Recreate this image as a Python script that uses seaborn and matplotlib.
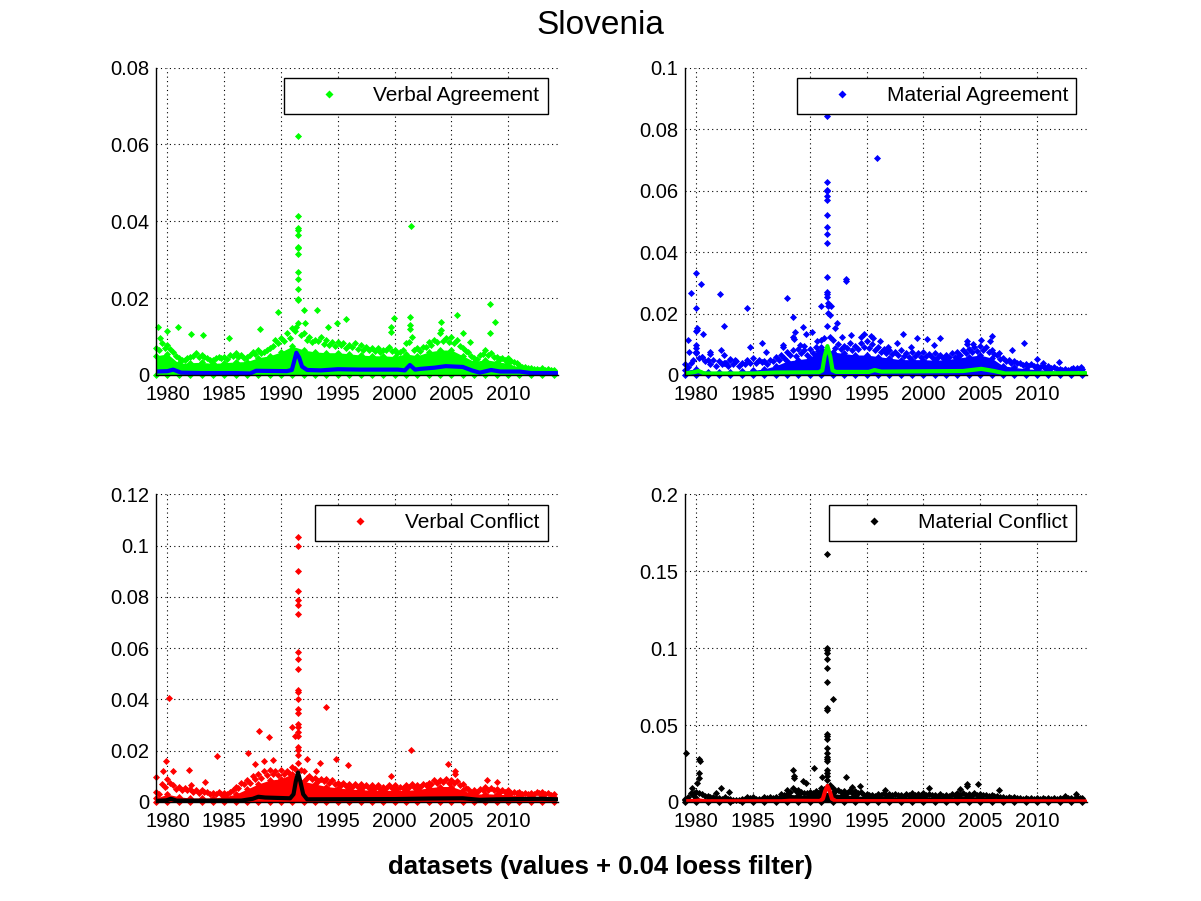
import numpy as np
import matplotlib
matplotlib.use("Agg")
import matplotlib.pyplot as plt
import seaborn as sns
from matplotlib.lines import Line2D

sns.set_theme(style="white")
plt.rcParams['font.family'] = ['Liberation Sans', 'DejaVu Sans']
plt.rcParams.update({'text.color': 'black', 'axes.labelcolor': 'black',
                     'xtick.color': 'black', 'ytick.color': 'black'})

# ---------------- data ----------------
t_half = np.arange(1979.0, 2014.01, 0.5)      # half-year sample times
t_mid = np.arange(1979.25, 2014.0, 0.5)       # quarter-offset sample times
t_year = np.arange(1979, 2015)                 # yearly sample times

panel_titles = ["Verbal Agreement", "Material Agreement", "Verbal Conflict", "Material Conflict"]
point_colors = ["#00ff00", "#0000ff", "#ff0000", "#000000"]
line_colors = ["#0000ff", "#00ff00", "#000000", "#ff0000"]
y_max = [0.08, 0.1, 0.12, 0.2]
y_ticks = [[0, 0.02, 0.04, 0.06, 0.08],
           [0, 0.02, 0.04, 0.06, 0.08, 0.1],
           [0, 0.02, 0.04, 0.06, 0.08, 0.1, 0.12],
           [0, 0.05, 0.1, 0.15, 0.2]]
y_ticklabels = [["0", "0.02", "0.04", "0.06", "0.08"],
                ["0", "0.02", "0.04", "0.06", "0.08", "0.1"],
                ["0", "0.02", "0.04", "0.06", "0.08", "0.1", "0.12"],
                ["0", "0.05", "0.1", "0.15", "0.2"]]
x_ticks = [1980, 1985, 1990, 1995, 2000, 2005, 2010]

# dense (solid) part of the cloud, yearly
va_dense = [0.005, 0.0055, 0.003, 0.0032, 0.0033, 0.003, 0.0032, 0.0034, 0.0035, 0.0045,
            0.005, 0.006, 0.0075, 0.0065, 0.006, 0.0058, 0.0058, 0.0055, 0.0052, 0.005,
            0.005, 0.0048, 0.0055, 0.005, 0.006, 0.0065, 0.0065, 0.005, 0.0035, 0.004,
            0.0035, 0.003, 0.002, 0.0013, 0.0012, 0.001]
ma_dense = [0.0015, 0.002, 0.001, 0.001, 0.001, 0.0012, 0.0015, 0.002, 0.003, 0.0045,
            0.005, 0.0055, 0.009, 0.0075, 0.007, 0.0065, 0.0065, 0.006, 0.0055, 0.005,
            0.005, 0.005, 0.0048, 0.005, 0.0055, 0.006, 0.0065, 0.0055, 0.003, 0.0025,
            0.002, 0.0018, 0.0015, 0.0012, 0.0012, 0.0012]
vc_dense = [0.0015, 0.003, 0.002, 0.0015, 0.0015, 0.0015, 0.002, 0.003, 0.005, 0.007,
            0.0085, 0.009, 0.011, 0.008, 0.007, 0.006, 0.0055, 0.005, 0.0048, 0.0045,
            0.0045, 0.0045, 0.0045, 0.0048, 0.0055, 0.006, 0.006, 0.0045, 0.003, 0.0032,
            0.003, 0.0028, 0.0025, 0.0022, 0.0022, 0.002]
mc_dense = [0.001, 0.0025, 0.0012, 0.001, 0.0008, 0.001, 0.0012, 0.0015, 0.002, 0.005,
            0.0045, 0.0045, 0.007, 0.0055, 0.0045, 0.004, 0.0035, 0.0035, 0.0035, 0.0033,
            0.0035, 0.0035, 0.0032, 0.0033, 0.0035, 0.0035, 0.0033, 0.003, 0.002, 0.0018,
            0.0016, 0.0016, 0.0016, 0.0016, 0.0016, 0.0016]

# ragged upper edge of the cloud, half-yearly
va_upper = [0.007, 0.0083, 0.0078, 0.006, 0.0043, 0.0039, 0.0048, 0.0057, 0.0052, 0.0043,
            0.0039, 0.0048, 0.0048, 0.0052, 0.0057, 0.0052, 0.0048, 0.006, 0.0065, 0.006,
            0.007, 0.0091, 0.0096, 0.0109, 0.0122, 0.0135, 0.0109, 0.01, 0.0091, 0.01,
            0.0091, 0.0087, 0.0087, 0.0083, 0.0078, 0.0083, 0.0078, 0.0074, 0.007, 0.007,
            0.0065, 0.0074, 0.0065, 0.006, 0.0083, 0.01, 0.007, 0.0074, 0.0087, 0.0091,
            0.0109, 0.0096, 0.01, 0.0091, 0.007, 0.006, 0.0043, 0.0052, 0.0065, 0.0057,
            0.0048, 0.0043, 0.0043, 0.0035, 0.0026, 0.0022, 0.0017, 0.0015, 0.0017, 0.0015,
            0.0013]
ma_upper = [0.0035, 0.004, 0.0075, 0.006, 0.005, 0.0048, 0.0045, 0.004, 0.005, 0.0045,
            0.004, 0.005, 0.0055, 0.005, 0.0045, 0.005, 0.006, 0.0065, 0.0075, 0.008,
            0.0085, 0.008, 0.0085, 0.009, 0.0115, 0.016, 0.0115, 0.01, 0.0095, 0.0105,
            0.0095, 0.0105, 0.011, 0.01, 0.009, 0.0085, 0.008, 0.0075, 0.008, 0.007,
            0.0075, 0.007, 0.0075, 0.0068, 0.007, 0.0065, 0.0065, 0.007, 0.0075, 0.008,
            0.0085, 0.009, 0.0095, 0.009, 0.008, 0.0065, 0.0055, 0.005, 0.0045, 0.004,
            0.0035, 0.0035, 0.003, 0.003, 0.0028, 0.0025, 0.002, 0.0018, 0.002, 0.0022,
            0.002]
vc_upper = [0.004, 0.007, 0.009, 0.0065, 0.006, 0.0055, 0.005, 0.0045, 0.0045, 0.004,
            0.0035, 0.004, 0.0035, 0.004, 0.006, 0.0075, 0.0085, 0.01, 0.011, 0.012,
            0.0125, 0.012, 0.0125, 0.012, 0.0135, 0.015, 0.012, 0.01, 0.0095, 0.009,
            0.009, 0.0085, 0.0075, 0.0075, 0.007, 0.007, 0.0068, 0.0065, 0.0065, 0.0065,
            0.006, 0.0065, 0.0065, 0.006, 0.0065, 0.007, 0.0065, 0.007, 0.0075, 0.0085,
            0.0085, 0.009, 0.0085, 0.008, 0.007, 0.005, 0.0045, 0.005, 0.006, 0.0055,
            0.005, 0.0045, 0.0045, 0.004, 0.0038, 0.0035, 0.0035, 0.004, 0.004, 0.0035,
            0.003]
mc_upper = [0.002, 0.006, 0.0065, 0.005, 0.004, 0.0035, 0.0025, 0.003, 0.002, 0.0015,
            0.002, 0.0035, 0.003, 0.002, 0.003, 0.0035, 0.003, 0.005, 0.008, 0.009,
            0.008, 0.006, 0.0065, 0.007, 0.009, 0.014, 0.009, 0.0075, 0.007, 0.0075,
            0.007, 0.0065, 0.005, 0.0045, 0.005, 0.0055, 0.005, 0.005, 0.0045, 0.005,
            0.0055, 0.005, 0.0055, 0.005, 0.0045, 0.005, 0.0045, 0.005, 0.0055, 0.006,
            0.005, 0.0055, 0.005, 0.0045, 0.0045, 0.004, 0.0035, 0.003, 0.003, 0.0028,
            0.0025, 0.0025, 0.0025, 0.0025, 0.0028, 0.0025, 0.0025, 0.003, 0.0025, 0.003,
            0.0025]

# intermediate points of the cloud, at quarter offsets
va_mid = [0.0065, 0.007, 0.0068, 0.005, 0.004, 0.0045, 0.005, 0.0048, 0.0046, 0.004,
          0.0043, 0.0045, 0.0042, 0.005, 0.0048, 0.0045, 0.0052, 0.0055, 0.0058, 0.0065,
          0.0075, 0.0082, 0.0088, 0.0095, 0.0115, 0.0105, 0.009, 0.0085, 0.0088, 0.008,
          0.0078, 0.0075, 0.0079, 0.007, 0.0072, 0.0068, 0.0066, 0.0065, 0.0062, 0.006,
          0.0066, 0.0062, 0.0058, 0.0065, 0.0085, 0.0066, 0.0062, 0.0072, 0.0078, 0.0085,
          0.0088, 0.0085, 0.0082, 0.0075, 0.0062, 0.005, 0.0042, 0.0055, 0.0052, 0.0048,
          0.0042, 0.0038, 0.0036, 0.003, 0.0022, 0.0018, 0.0015, 0.0014, 0.0014, 0.0012]
ma_mid = [0.0025, 0.005, 0.0055, 0.0045, 0.0035, 0.003, 0.0035, 0.003, 0.0035, 0.003,
          0.0035, 0.004, 0.0038, 0.0042, 0.0035, 0.0045, 0.005, 0.0055, 0.0065, 0.0062,
          0.007, 0.0065, 0.007, 0.0078, 0.012, 0.0125, 0.0088, 0.0085, 0.0088, 0.0082,
          0.0085, 0.009, 0.0088, 0.0082, 0.0075, 0.007, 0.0068, 0.0065, 0.0062, 0.006,
          0.0062, 0.006, 0.0062, 0.0058, 0.0058, 0.0055, 0.0058, 0.006, 0.0065, 0.007,
          0.0075, 0.0078, 0.008, 0.0075, 0.0068, 0.0052, 0.0045, 0.004, 0.0038, 0.0032,
          0.003, 0.0028, 0.0025, 0.0024, 0.0022, 0.002, 0.0016, 0.0015, 0.0017, 0.0018]
vc_mid = [0.003, 0.006, 0.0075, 0.005, 0.0048, 0.0045, 0.004, 0.0035, 0.0038, 0.003,
          0.003, 0.0032, 0.003, 0.0045, 0.0055, 0.0068, 0.0075, 0.0088, 0.0095, 0.0105,
          0.011, 0.0105, 0.011, 0.0108, 0.013, 0.0125, 0.0095, 0.0088, 0.0082, 0.008,
          0.0075, 0.007, 0.0065, 0.0062, 0.006, 0.0058, 0.0058, 0.0055, 0.0055, 0.0052,
          0.0055, 0.0055, 0.0052, 0.0055, 0.0058, 0.0058, 0.006, 0.0065, 0.007, 0.0075,
          0.0078, 0.0075, 0.0072, 0.0065, 0.0055, 0.004, 0.004, 0.0048, 0.0048, 0.0045,
          0.004, 0.0038, 0.0036, 0.0034, 0.0032, 0.003, 0.003, 0.0034, 0.0032, 0.0028]
mc_mid = [0.003, 0.0045, 0.0055, 0.004, 0.003, 0.0025, 0.002, 0.0022, 0.0015, 0.0012,
          0.0018, 0.0025, 0.002, 0.0018, 0.0025, 0.0028, 0.0025, 0.0045, 0.0065, 0.007,
          0.0062, 0.0055, 0.0055, 0.006, 0.0085, 0.011, 0.0072, 0.0062, 0.006, 0.0058,
          0.0055, 0.0048, 0.0042, 0.004, 0.0045, 0.0045, 0.0042, 0.0042, 0.004, 0.0042,
          0.0045, 0.0042, 0.0045, 0.0042, 0.004, 0.004, 0.004, 0.0042, 0.0045, 0.0048,
          0.0045, 0.0045, 0.0042, 0.004, 0.0038, 0.0032, 0.0028, 0.0025, 0.0025, 0.0022,
          0.0022, 0.002, 0.002, 0.002, 0.0022, 0.002, 0.0022, 0.0025, 0.002, 0.0025]

# isolated high values
va_out_x = [1991.46, 1991.46, 1991.46, 1991.46, 1991.46, 1991.46, 1991.46, 1991.46, 1991.46,
            1991.46, 1991.46, 1991.46, 1991.46, 2001.43, 1989.7, 1991.98, 1993.2, 2008.4,
            2008.8, 2008.4, 2005.5, 1999.99, 1999.7, 1999.7, 2001.4, 2001.4, 2001.4, 2004.1,
            2004.1, 1994.9, 1995.7, 1994.1, 1988.15, 1979.15, 1980.0, 1980.9, 1982.1, 1983.1,
            1985.4, 1979.3, 1992.1, 1991.3, 2006.0, 2006.6]
va_out_y = [0.0621, 0.0414, 0.0383, 0.0378, 0.0365, 0.0334, 0.033, 0.0314, 0.0269,
            0.0249, 0.0223, 0.0199, 0.0195, 0.0387, 0.0163, 0.0169, 0.0169, 0.0184,
            0.0137, 0.0109, 0.0155, 0.0148, 0.0126, 0.0113, 0.015, 0.0129, 0.0119, 0.0139,
            0.0117, 0.0135, 0.0145, 0.0126, 0.0119, 0.0126, 0.0115, 0.0126, 0.0107, 0.0104,
            0.0096, 0.0096, 0.0135, 0.0126, 0.0109, 0.0087]
ma_out_x = [1991.55, 1995.95, 1991.55, 1991.55, 1991.55, 1991.55, 1991.55, 1991.55, 1991.55,
            1991.55, 1991.55, 1991.55, 1991.55, 1991.55, 1991.55, 1991.6, 1991.6, 1991.6,
            1991.0, 1991.9, 1991.8, 1993.2, 1993.2, 1980.0, 1979.5, 1980.4, 1980.0, 1980.05,
            1980.1, 1980.0, 1980.6, 1979.3, 1979.4, 1980.0, 1980.0, 1980.0, 1980.0, 1980.5,
            1981.2, 1981.2, 1982.1, 1982.4, 1982.2, 1982.4, 1982.4, 1982.6, 1983.0, 1983.4,
            1984.5, 1984.7, 1985.8, 1986.1, 1988.0, 1988.5, 1988.7, 1988.5, 1988.6, 1989.4,
            1989.7, 1987.6, 1987.6, 1989.1, 1989.5, 1990.2, 1990.6, 1992.4, 1992.2, 1992.8,
            1993.6, 1994.8, 1994.5, 1995.4, 1995.6, 1996.2, 1996.9, 1998.2, 1997.7, 1998.9,
            1999.4, 2000.3, 2001.5, 2000.9, 2003.8, 2003.8, 2004.4, 2005.1, 2006.0, 2005.9,
            2006.7, 2007.8, 2008.9, 2010.0, 2010.5, 2011.9, 2013.2, 2013.9]
ma_out_y = [0.0844, 0.0706, 0.0627, 0.0603, 0.06, 0.0581, 0.057, 0.052, 0.0481,
            0.0458, 0.0429, 0.032, 0.0271, 0.0263, 0.0253, 0.0233, 0.0223, 0.0201,
            0.0226, 0.0223, 0.0195, 0.0312, 0.0307, 0.0331, 0.0266, 0.0295, 0.0217, 0.0152,
            0.0147, 0.0144, 0.0132, 0.0114, 0.0076, 0.0098, 0.0087, 0.0076, 0.0071, 0.006,
            0.0076, 0.0067, 0.0263, 0.016, 0.0081, 0.0065, 0.0038, 0.0038, 0.0051, 0.0049,
            0.0217, 0.009, 0.0103, 0.0076, 0.025, 0.0188, 0.0141, 0.0123, 0.0116, 0.0155,
            0.0134, 0.0096, 0.0092, 0.0098, 0.0094, 0.0141, 0.0109, 0.0168, 0.0152, 0.0125,
            0.013, 0.0134, 0.0122, 0.0127, 0.0119, 0.0109, 0.009, 0.0134, 0.0105, 0.0092,
            0.0119, 0.0117, 0.0119, 0.0098, 0.0109, 0.0101, 0.0101, 0.0114, 0.0127, 0.0109,
            0.0071, 0.0081, 0.0103, 0.0051, 0.0038, 0.0041, 0.0022, 0.0027]
vc_out_x = [1991.46, 1991.46, 1991.46, 1991.46, 1991.46, 1991.46, 1991.46, 1991.46, 1991.46,
            1991.46, 1991.46, 1991.46, 1991.46, 1991.46, 1991.46, 1991.46, 1991.46, 1991.46,
            1991.46, 1991.2, 1991.0, 1991.46, 1991.46, 1991.46, 1980.1, 1994.0, 1988.1,
            1988.9, 1987.1, 1984.4, 2001.43, 2004.7, 2005.3, 2005.35, 1994.8, 1995.9, 1993.4,
            1992.3, 1979.9, 1979.0, 1979.6, 1980.5, 1981.9, 1983.3, 1982.1, 1999.7, 2008.1,
            2009.0, 2010.0, 1988.5, 1987.7, 1989.3, 1993.1]
vc_out_y = [0.1034, 0.0998, 0.0903, 0.0825, 0.079, 0.077, 0.0734, 0.0585, 0.0558,
            0.0519, 0.0438, 0.0427, 0.0401, 0.0362, 0.0347, 0.0304, 0.0294, 0.0271,
            0.0258, 0.0258, 0.0292, 0.0216, 0.0203, 0.0184, 0.0405, 0.037, 0.0278,
            0.0255, 0.019, 0.018, 0.0202, 0.0147, 0.0119, 0.0108, 0.0167, 0.0143, 0.0151,
            0.0167, 0.0158, 0.0096, 0.0121, 0.0121, 0.0125, 0.0076, 0.0066, 0.0102, 0.0086,
            0.0077, 0.0038, 0.0158, 0.0147, 0.0164, 0.0119]
mc_out_x = [1991.55, 1991.55, 1991.55, 1991.55, 1991.55, 1991.55, 1991.55, 1992.0, 1991.55,
            1991.55, 1991.55, 1991.55, 1991.55, 1991.55, 1991.55, 1991.55, 1991.55, 1991.55,
            1991.55, 1991.55, 1991.55, 1979.1, 1980.2, 1980.3, 1980.25, 1980.25, 1980.1,
            1979.6, 1982.2, 1982.9, 1988.5, 1988.6, 1988.6, 1990.4, 1989.4, 1989.7, 1991.1,
            1993.2, 1993.7, 1994.4, 1996.6, 2000.5, 2003.8, 2003.8, 2004.8, 2003.2, 2006.7,
            2013.4, 2012.5, 1979.8, 1981.7]
mc_out_y = [0.1613, 0.1001, 0.099, 0.0969, 0.0929, 0.0871, 0.078, 0.0669, 0.061,
            0.0595, 0.0441, 0.0426, 0.041, 0.035, 0.0317, 0.0295, 0.0278, 0.0263,
            0.0208, 0.0187, 0.0169, 0.0317, 0.0278, 0.0263, 0.0187, 0.0154, 0.0122,
            0.0089, 0.0089, 0.0067, 0.0208, 0.0169, 0.0154, 0.0219, 0.0139, 0.0122, 0.0161,
            0.0161, 0.01, 0.0104, 0.0078, 0.0089, 0.0117, 0.0104, 0.0117, 0.0083, 0.0078,
            0.0052, 0.0041, 0.0056, 0.0056]

# 0.04 loess filter curves
va_loess_t = [1979.0, 1980.0, 1980.5, 1981.2, 1983.0, 1986.0, 1987.3, 1987.8, 1990.5, 1990.95,
              1991.15, 1991.35, 1991.6, 1991.85, 1992.3, 1993.5, 1995.0, 1997.0, 2000.3, 2000.9,
              2001.35, 2001.8, 2002.3, 2003.5, 2004.5, 2006.0, 2006.8, 2007.5, 2008.5, 2009.3,
              2011.0, 2012.0, 2014.3]
va_loess_v = [0.0009, 0.001, 0.0014, 0.0006, 0.0005, 0.0005, 0.0004, 0.0011, 0.001, 0.0013,
              0.0035, 0.0058, 0.0045, 0.0022, 0.0013, 0.0012, 0.0015, 0.0014, 0.0014, 0.0012,
              0.0026, 0.0014, 0.0016, 0.0019, 0.0023, 0.0021, 0.0012, 0.0006, 0.0013, 0.0009,
              0.0009, 0.0005, 0.0005]
ma_loess_t = [1979.0, 1979.8, 1980.2, 1980.7, 1985.0, 1987.0, 1990.8, 1991.1, 1991.3, 1991.55,
              1991.8, 1992.0, 1992.3, 1995.2, 1995.7, 1996.3, 2003.5, 2005.1, 2006.2, 2007.2,
              2014.3]
ma_loess_v = [0.0005, 0.0009, 0.0013, 0.0005, 0.0005, 0.0008, 0.0009, 0.0015, 0.006, 0.0094,
              0.006, 0.0015, 0.001, 0.001, 0.0016, 0.0011, 0.0013, 0.002, 0.0013, 0.0005,
              0.0006]
vc_loess_t = [1979.0, 1979.9, 1980.3, 1980.8, 1986.5, 1987.5, 1988.0, 1988.6, 1990.8, 1991.1,
              1991.3, 1991.5, 1991.7, 1991.95, 1992.3, 2000.0, 2003.0, 2006.0, 2007.5, 2009.0,
              2013.0, 2014.3]
vc_loess_v = [0.0004, 0.0006, 0.0012, 0.0005, 0.0005, 0.0012, 0.002, 0.0017, 0.0014, 0.003,
              0.008, 0.0115, 0.008, 0.003, 0.001, 0.0011, 0.0013, 0.0014, 0.0008, 0.001,
              0.0012, 0.001]
mc_loess_t = [1979.0, 1979.9, 1980.3, 1980.8, 1987.5, 1988.2, 1990.9, 1991.15, 1991.35, 1991.55,
              1991.75, 1991.95, 1992.3, 2007.0, 2014.3]
mc_loess_v = [0.0004, 0.0006, 0.0009, 0.0004, 0.0004, 0.0007, 0.0006, 0.002, 0.007, 0.0104,
              0.007, 0.002, 0.0005, 0.0005, 0.0003]

dense = [va_dense, ma_dense, vc_dense, mc_dense]
upper = [va_upper, ma_upper, vc_upper, mc_upper]
mid = [va_mid, ma_mid, vc_mid, mc_mid]
out_x = [va_out_x, ma_out_x, vc_out_x, mc_out_x]
out_y = [va_out_y, ma_out_y, vc_out_y, mc_out_y]
loess_t = [va_loess_t, ma_loess_t, vc_loess_t, mc_loess_t]
loess_v = [va_loess_v, ma_loess_v, vc_loess_v, mc_loess_v]

# ---------------- figure ----------------
fig = plt.figure(figsize=(12.01, 9.01), dpi=100)
fig.patch.set_facecolor("white")
positions = [[0.13, 0.5838, 0.3347, 0.3412], [0.5703, 0.5838, 0.3347, 0.3412],
             [0.13, 0.11, 0.3347, 0.3412], [0.5703, 0.11, 0.3347, 0.3412]]

FS = 14.5
MK = 'D'
MS = 13
for i in range(4):
    ax = fig.add_axes(positions[i])
    ax.set_facecolor("white")
    pc = point_colors[i]
    ax.fill_between(t_year, 0, dense[i], color=pc, lw=0, zorder=2)
    for xs, ys in [(t_year, dense[i]), (t_half, upper[i]), (t_mid, mid[i]),
                   (t_year, np.zeros(len(t_year))), (out_x[i], out_y[i])]:
        sns.scatterplot(x=xs, y=ys, ax=ax, color=pc, marker=MK, s=MS,
                        linewidth=0, zorder=3, clip_on=False, legend=False)
    sns.lineplot(x=loess_t[i], y=loess_v[i], ax=ax, color=line_colors[i], lw=3,
                 sort=False, estimator=None, zorder=4)

    ax.set_xlim(1979.0, 2014.4)
    ax.set_ylim(0, y_max[i])
    ax.set_xticks(x_ticks)
    ax.set_xticklabels([str(v) for v in x_ticks], fontsize=FS)
    ax.set_yticks(y_ticks[i])
    ax.set_yticklabels(y_ticklabels[i], fontsize=FS)
    ax.tick_params(axis='y', direction='in', length=4, width=0.8, colors='black', pad=5,
                   labelcolor='black')
    ax.tick_params(axis='x', direction='in', length=4, width=0.8, colors='black', pad=7,
                   labelcolor='black')
    ax.grid(True, color='black', linestyle=(0, (1, 3)), linewidth=0.8)
    ax.set_axisbelow(True)
    for s in ['top', 'right']:
        ax.spines[s].set_visible(False)
    for s in ['left', 'bottom']:
        ax.spines[s].set_color('black')
        ax.spines[s].set_linewidth(1.0)
        ax.spines[s].set_zorder(5)
    ax.set_xlabel("")
    ax.set_ylabel("")

    handle = Line2D([], [], linestyle='none', marker=MK, markersize=4,
                    markerfacecolor=pc, markeredgecolor='none')
    leg = ax.legend([handle], [panel_titles[i]], loc='upper right', fontsize=15,
                    frameon=True, fancybox=False, shadow=False, framealpha=1,
                    edgecolor='black', borderpad=0.4, handlelength=3.5,
                    handletextpad=0.4, borderaxespad=0.5, numpoints=1)
    leg.get_frame().set_linewidth(1.0)
    leg.set_zorder(10)

fig.text(0.5, 1 - 25 / 901, "Slovenia", ha='center', va='center', fontsize=24)
fig.text(0.5, 1 - 867 / 901, "datasets (values + 0.04 loess filter)", ha='center',
         va='center', fontsize=18.5, fontweight='bold')

fig.savefig("out.png", dpi=100, facecolor="white")
